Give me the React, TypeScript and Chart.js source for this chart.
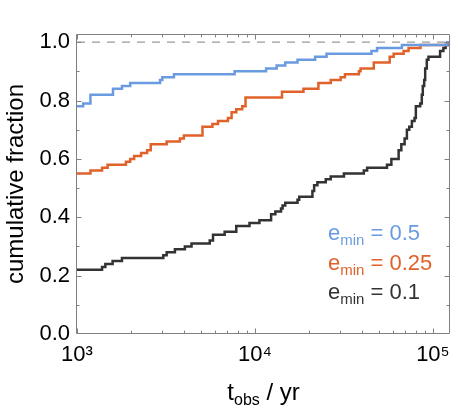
import React, { useEffect, useRef } from 'react';
import { Chart, registerables } from 'chart.js';

Chart.register(...registerables);

// ---- data ----
const xMin = 1000;
const xMax = 125000;
const yMin = 0;
const yMax = 1.028;

const xTickValues = [1000, 10000, 100000];
const xTickLabels = ['10³', '10⁴', '10⁵'];
const xMinorTicks = [2000, 3000, 4000, 5000, 6000, 7000, 8000, 9000, 20000, 30000, 40000, 50000, 60000, 70000, 80000, 90000];
const yTickValues = [0, 0.2, 0.4, 0.6, 0.8, 1.0];
const yMinorTicks = [0.1, 0.3, 0.5, 0.7, 0.9];

// e_min = 0.5 (blue): times (yr) at which the cumulative fraction steps, and the new fraction
const blueT = [1000, 1083, 1190, 1593, 1789, 1990, 2928, 3016, 3505, 7683, 11550, 13240, 14800, 17340, 21780, 25250, 45150, 48530, 66950, 120500, 125000];
const blueF = [0.78, 0.79, 0.82, 0.84, 0.85, 0.86, 0.87, 0.88, 0.89, 0.90, 0.91, 0.92, 0.93, 0.94, 0.95, 0.96, 0.97, 0.98, 0.99, 1.0, 1.0];

// e_min = 0.25 (orange)
const orangeT = [1000, 1190, 1383, 1486, 1883, 1990, 2095, 2293, 2477, 2597, 3191, 3786, 3986, 5070, 5766, 6197, 7047, 7391, 7852, 8483, 8850, 14190, 18730, 22720, 26650, 30310, 32030, 38350, 39200, 46520, 57150, 60160, 68430, 72970, 85160, 120500, 125000];
const orangeF = [0.55, 0.56, 0.57, 0.58, 0.59, 0.60, 0.61, 0.62, 0.63, 0.65, 0.66, 0.67, 0.68, 0.71, 0.72, 0.73, 0.74, 0.76, 0.77, 0.78, 0.81, 0.83, 0.84, 0.86, 0.87, 0.88, 0.89, 0.90, 0.91, 0.93, 0.95, 0.96, 0.97, 0.98, 0.99, 1.0, 1.0];

// e_min = 0.1 (black)
const blackT = [1000, 1383, 1443, 1585, 1789, 3054, 3191, 3550, 4038, 4401, 5569, 5811, 6755, 7852, 9318, 10595, 12320, 13020, 14010, 14300, 14800, 17340, 17730, 21030, 21500, 22430, 24990, 26650, 31620, 40900, 42680, 55200, 58410, 64170, 66430, 69320, 71400, 73630, 76160, 78830, 80170, 84840, 86590, 87710, 89310, 90470, 92370, 94410, 109700, 114500, 117900, 122000, 125000];
const blackF = [0.22, 0.23, 0.24, 0.25, 0.26, 0.27, 0.28, 0.29, 0.30, 0.31, 0.32, 0.34, 0.35, 0.37, 0.38, 0.39, 0.41, 0.42, 0.43, 0.44, 0.45, 0.46, 0.47, 0.49, 0.51, 0.52, 0.53, 0.54, 0.55, 0.56, 0.57, 0.58, 0.60, 0.63, 0.65, 0.67, 0.70, 0.71, 0.73, 0.74, 0.78, 0.79, 0.82, 0.85, 0.87, 0.91, 0.94, 0.95, 0.97, 0.98, 0.99, 1.0, 1.0];

const refT = [xMin, xMax];
const refF = [1.0, 1.0];

const seriesNames = ['0.5', '0.25', '0.1'];
const seriesColors = ['#6a9be0', '#e0622a', '#333333'];

const FONT = "'Liberation Sans', Arial, Helvetica, sans-serif";

const toPoints = (t: number[], f: number[]) => t.map((v, i) => ({ x: v, y: f[i] }));

const framePlugin = {
  id: 'frameTicks',
  afterDatasetsDraw(chart: any) {
    const { ctx, chartArea, scales } = chart;
    const { left, right, top, bottom } = chartArea;
    const x = scales.x;
    const y = scales.y;
    ctx.save();
    ctx.strokeStyle = '#808080';
    ctx.lineWidth = 1;
    const L = Math.round(left) - 0.5;
    const R = Math.round(right) - 0.5;
    const T = Math.round(top) + 0.5;
    const B = Math.round(bottom) - 0.5;
    ctx.beginPath();
    ctx.rect(L, T, R - L, B - T);
    ctx.stroke();
    const major = 5;
    const minor = 3;
    ctx.beginPath();
    const xt = (v: number, len: number) => {
      const px = Math.round(x.getPixelForValue(v)) + 0.5;
      if (px < L || px > R) return;
      ctx.moveTo(px, B);
      ctx.lineTo(px, B - len);
      ctx.moveTo(px, T);
      ctx.lineTo(px, T + len);
    };
    const yt = (v: number, len: number) => {
      const py = Math.round(y.getPixelForValue(v)) + 0.5;
      if (py < T || py > B) return;
      ctx.moveTo(L, py);
      ctx.lineTo(L + len, py);
      ctx.moveTo(R, py);
      ctx.lineTo(R - len, py);
    };
    xTickValues.forEach((v) => xt(v, major));
    xMinorTicks.forEach((v) => xt(v, minor));
    yTickValues.forEach((v) => yt(v, major));
    yMinorTicks.forEach((v) => yt(v, minor));
    ctx.stroke();

    // x-axis title with subscript
    const big = `24px ${FONT}`;
    const small = `16px ${FONT}`;
    ctx.fillStyle = '#000';
    ctx.textBaseline = 'alphabetic';
    ctx.textAlign = 'left';
    ctx.font = big;
    const wT = ctx.measureText('t').width;
    const wRest = ctx.measureText(' / yr').width;
    ctx.font = small;
    const wSub = ctx.measureText('obs').width;
    const total = wT + wSub + wRest;
    const cx = (left + right) / 2;
    let px = cx - total / 2;
    const base = 400;
    ctx.font = big;
    ctx.fillText('t', px, base);
    px += wT;
    ctx.font = small;
    ctx.fillText('obs', px, base + 5);
    px += wSub;
    ctx.font = big;
    ctx.fillText(' / yr', px, base);

    // legend labels
    const legendX = 328;
    const baselines = [240, 269.5, 299];
    seriesNames.forEach((name, i) => {
      ctx.fillStyle = seriesColors[i];
      let lx = legendX;
      const by = baselines[i];
      ctx.font = `22px ${FONT}`;
      ctx.fillText('e', lx, by);
      lx += ctx.measureText('e').width;
      ctx.font = `15px ${FONT}`;
      ctx.fillText('min', lx, by + 5);
      lx += ctx.measureText('min').width;
      ctx.font = `22px ${FONT}`;
      ctx.fillText(' = ' + name, lx, by);
    });
    ctx.restore();
  },
};

export default function App() {
  const ref = useRef<HTMLCanvasElement | null>(null);
  useEffect(() => {
    document.body.style.margin = '0';
    const canvas = ref.current;
    if (!canvas) return;
    const lineDs = (t: number[], f: number[], color: string) => ({
      data: toPoints(t, f),
      borderColor: color,
      backgroundColor: color,
      borderWidth: 2.5,
      pointRadius: 0,
      stepped: 'before' as const,
      fill: false,
      borderJoinStyle: 'miter' as const,
      borderCapStyle: 'butt' as const,
    });
    const chart = new Chart(canvas, {
      type: 'line',
      data: {
        datasets: [
          lineDs(blueT, blueF, seriesColors[0]),
          lineDs(orangeT, orangeF, seriesColors[1]),
          lineDs(blackT, blackF, seriesColors[2]),
          {
            data: toPoints(refT, refF),
            borderColor: '#9a9a9a',
            borderWidth: 1.3,
            borderDash: [8, 7],
            pointRadius: 0,
            fill: false,
          },
        ],
      },
      options: {
        responsive: false,
        animation: false,
        events: [],
        layout: { padding: { top: 34, right: 6, left: 0, bottom: 0 } },
        plugins: { legend: { display: false }, tooltip: { enabled: false } },
        scales: {
          x: {
            type: 'logarithmic',
            min: xMin,
            max: xMax,
            afterBuildTicks: (s: any) => {
              s.ticks = xTickValues.map((v) => ({ value: v }));
            },
            afterFit: (s: any) => {
              s.height = 75;
            },
            ticks: {
              autoSkip: false,
              maxRotation: 0,
              padding: 8,
              color: '#000',
              font: { family: FONT, size: 22 },
              callback: (_v: any, i: number) => xTickLabels[i],
            },
            grid: { display: false, drawTicks: false },
            border: { display: false },
          },
          y: {
            type: 'linear',
            min: yMin,
            max: yMax,
            afterBuildTicks: (s: any) => {
              s.ticks = yTickValues.map((v) => ({ value: v }));
            },
            afterFit: (s: any) => {
              s.width = 77;
            },
            ticks: {
              autoSkip: false,
              padding: 7,
              color: '#000',
              font: { family: FONT, size: 22 },
              callback: (v: any) => Number(v).toFixed(1),
            },
            grid: { display: false, drawTicks: false },
            border: { display: false },
            title: {
              display: true,
              text: 'cumulative fraction',
              color: '#000',
              font: { family: FONT, size: 24 },
              padding: { top: 2, bottom: 0 },
            },
          },
        },
      },
      plugins: [framePlugin],
    });
    return () => chart.destroy();
  }, []);
  return <canvas ref={ref} width={458} height={409} style={{ display: 'block' }} />;
}
